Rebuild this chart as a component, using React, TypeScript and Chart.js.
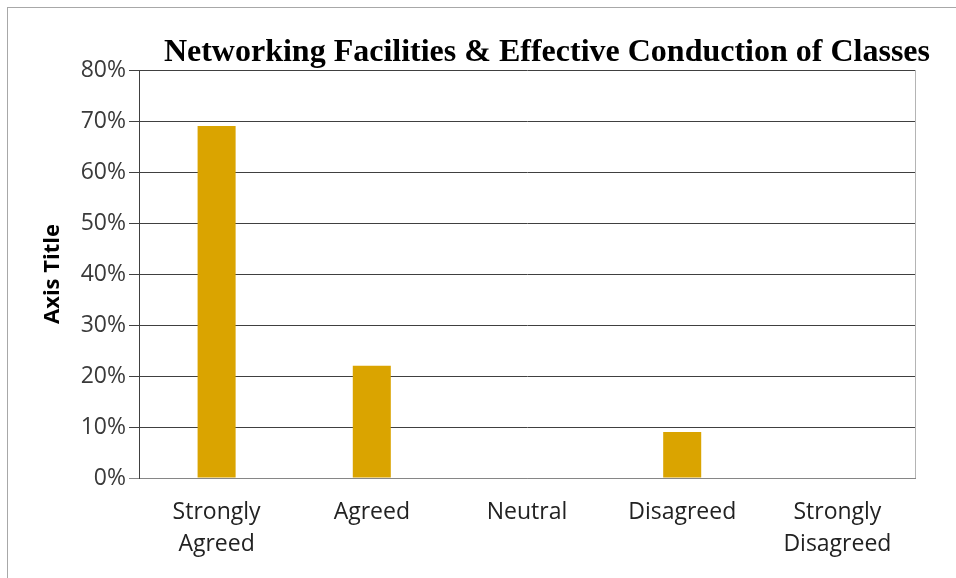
import React, { useEffect, useRef } from "react";
import { Chart, registerables } from "chart.js";

Chart.register(...registerables);

const chartTitle = "Networking Facilities & Effective Conduction of Classes";
const categories: (string | string[])[] = [
  ["Strongly", "Agreed"],
  "Agreed",
  "Neutral",
  "Disagreed",
  ["Strongly", "Disagreed"],
];
const percentValues = [69, 22, 0, 9, 0];
const yTickMax = 80;
const yTickStep = 10;
const yAxisTitle = "Axis Title";

const titlePlugin = {
  id: "customTitle",
  afterDraw(chart: any) {
    const { ctx, chartArea } = chart;
    ctx.save();
    ctx.font = "bold 32px 'Liberation Serif', 'Times New Roman', serif";
    ctx.fillStyle = "#000";
    ctx.textAlign = "right";
    ctx.textBaseline = "alphabetic";
    ctx.fillText(chartTitle, chartArea.right + 15, chartArea.top - 9);
    ctx.restore();
  },
};

const rightBorderPlugin = {
  id: "rightBorder",
  afterDraw(chart: any) {
    const { ctx, chartArea } = chart;
    ctx.save();
    ctx.strokeStyle = "#b4b4b4";
    ctx.lineWidth = 1;
    ctx.beginPath();
    ctx.moveTo(Math.round(chartArea.right) + 0.5, chartArea.top);
    ctx.lineTo(Math.round(chartArea.right) + 0.5, chartArea.bottom);
    ctx.stroke();
    ctx.restore();
  },
};

export default function App() {
  const canvasRef = useRef<HTMLCanvasElement | null>(null);

  useEffect(() => {
    if (!canvasRef.current) return;
    const chart = new Chart(canvasRef.current, {
      type: "bar",
      data: {
        labels: categories,
        datasets: [
          {
            data: percentValues,
            backgroundColor: "#DAA400",
            borderWidth: 0,
            categoryPercentage: 1,
            barPercentage: 0.245,
          },
        ],
      },
      options: {
        animation: false,
        responsive: false,
        maintainAspectRatio: false,
        layout: { padding: { left: 0, top: 70, right: 41, bottom: 0 } },
        plugins: {
          legend: { display: false },
          tooltip: { enabled: false },
          title: { display: false },
        },
        scales: {
          x: {
            grid: { display: false, drawTicks: false },
            border: { display: true, color: "#868686", width: 1 },
            ticks: {
              color: "#222",
              padding: 18,
              maxRotation: 0,
              autoSkip: false,
              font: { family: "'Open Sans', sans-serif", size: 23, lineHeight: 1.4 },
            },
            afterFit: (scale: any) => {
              scale.height = 100;
            },
          },
          y: {
            min: 0,
            max: yTickMax,
            ticks: {
              stepSize: yTickStep,
              color: "#3a3a3a",
              padding: 3,
              font: { family: "'Open Sans', sans-serif", size: 23 },
              callback: (v: any) => v + "%",
            },
            grid: {
              color: (c: any) => (c.tick && c.tick.value === 0 ? "#868686" : "#404040"),
              tickColor: (c: any) => (c.tick && c.tick.value === 0 ? "#868686" : "#404040"),
              tickLength: 10,
              lineWidth: 1,
            },
            border: { display: true, color: "#404040", width: 1 },
            title: {
              display: true,
              text: yAxisTitle,
              color: "#000",
              font: { family: "'Open Sans', sans-serif", size: 22, weight: "bold" },
              padding: { top: 40, bottom: 0 },
            },
            afterFit: (scale: any) => {
              scale.width = 139;
            },
          },
        },
      },
      plugins: [titlePlugin, rightBorderPlugin],
    });
    return () => chart.destroy();
  }, []);

  return (
    <div style={{ position: "absolute", left: 0, top: 0, width: 956, height: 578, overflow: "hidden", background: "#fff" }}>
      <div
        style={{
          position: "absolute",
          left: 7,
          top: 7,
          width: 980,
          height: 600,
          borderTop: "1px solid #a8a8a8",
          borderLeft: "1px solid #a8a8a8",
        }}
      />
      <canvas ref={canvasRef} width={956} height={578} style={{ position: "absolute", left: 0, top: 0 }} />
    </div>
  );
}
